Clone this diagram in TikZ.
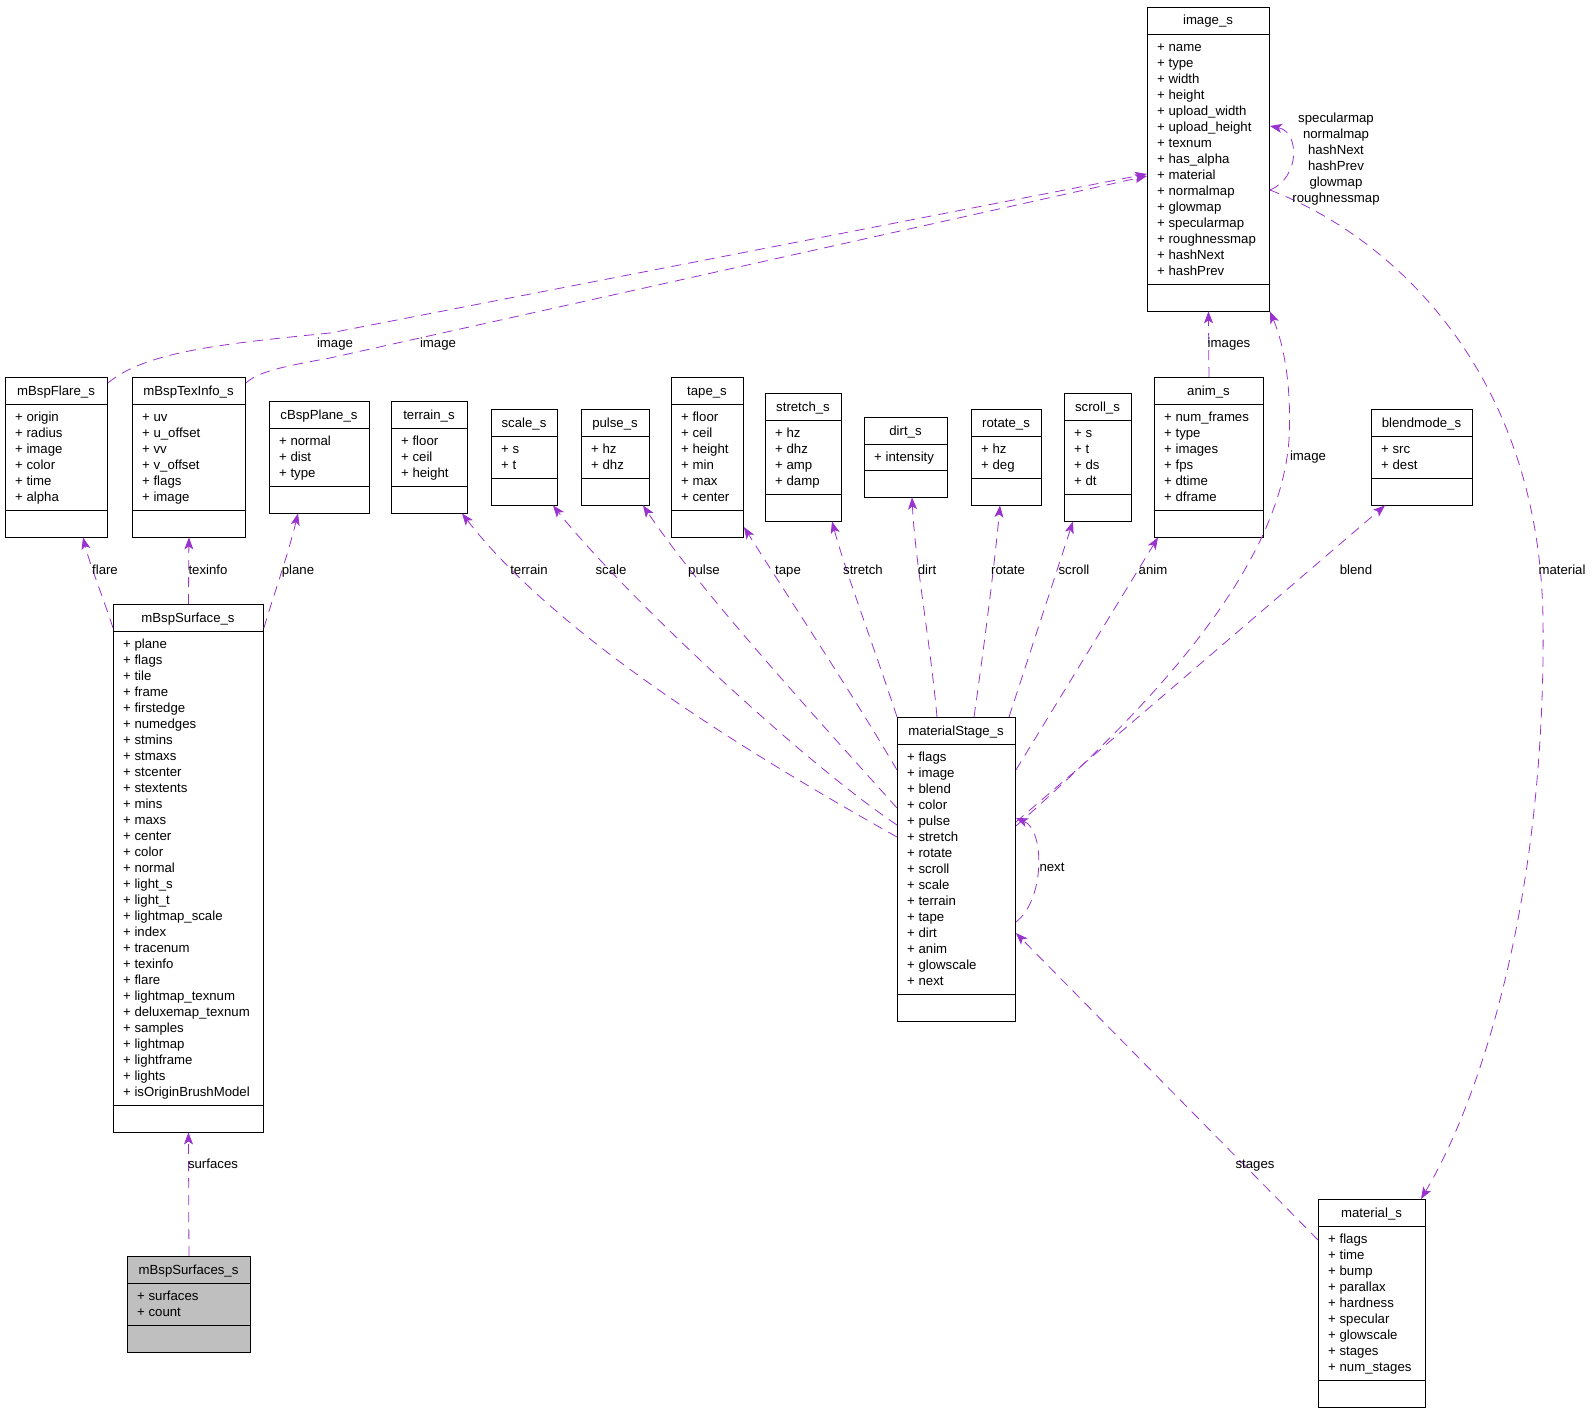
\documentclass[tikz,border=0pt]{standalone}
\usepackage{fontspec}
\setmainfont{Liberation Sans}
\usetikzlibrary{arrows.meta}

\definecolor{refcol}{HTML}{9A32CD}
\definecolor{boxgray}{HTML}{BFBFBF}

% class box: [fill]{name}{left}{top}{width}{rows}{title}{members}
\newcommand{\umlclass}[8][white]{%
  \pgfmathsetmacro{\boxh}{27+16*#6+10.5+26}%
  \node[classbox, fill=#1, minimum width=#5pt, minimum height=\boxh pt, anchor=north west] (#2) at (#3,#4) {};
  \draw[line width=0.9pt] (#3,#4+27) -- ++(#5,0);
  \draw[line width=0.9pt] (#3,#4+37.5+16*#6) -- ++(#5,0);
  \node[anchor=base] at (#3+#5/2,#4+18) {#7};
  \foreach \mem [count=\k] in {#8}
    \node[anchor=base west] at (#3+10,#4+27+5.25+16*\k-8+4.5) {+ \mem};
}

\begin{document}
\begin{tikzpicture}[x=1pt,y=-1pt,
    every node/.append style={inner sep=0pt,font=\fontsize{13.2}{16}\selectfont},
    classbox/.style={draw,line width=0.9pt},
    ref/.style={refcol,line width=0.8pt,dash pattern=on 10pt off 7pt,
      -{Stealth[length=12pt,width=9pt,inset=3pt]}},
    reflbl/.style={black,text height=9.5pt,text depth=2.7pt}]
  \useasboundingbox (0,0) rectangle (1592,1413);

  % classes
  \umlclass{flare}{5}{377}{102}{6}{mBspFlare\_s}{origin,radius,image,color,time,alpha}
  \umlclass{texinfo}{132}{377}{113}{6}{mBspTexInfo\_s}{uv,u\_offset,vv,v\_offset,flags,image}
  \umlclass{plane}{269}{401}{100}{3}{cBspPlane\_s}{normal,dist,type}
  \umlclass{terrain}{391}{401}{76}{3}{terrain\_s}{floor,ceil,height}
  \umlclass{scale}{491}{409}{66}{2}{scale\_s}{s,t}
  \umlclass{pulse}{581}{409}{68}{2}{pulse\_s}{hz,dhz}
  \umlclass{tape}{671}{377}{72}{6}{tape\_s}{floor,ceil,height,min,max,center}
  \umlclass{stretch}{765}{393}{76}{4}{stretch\_s}{hz,dhz,amp,damp}
  \umlclass{dirt}{864}{417}{83}{1}{dirt\_s}{intensity}
  \umlclass{rotate}{971}{409}{70}{2}{rotate\_s}{hz,deg}
  \umlclass{scroll}{1064}{393}{67}{4}{scroll\_s}{s,t,ds,dt}
  \umlclass{anim}{1154}{377}{109}{6}{anim\_s}{num\_frames,type,images,fps,dtime,dframe}
  \umlclass{blend}{1371}{409}{101}{2}{blendmode\_s}{src,dest}
  \umlclass{image}{1147}{7}{122}{15}{image\_s}{name,type,width,height,upload\_width,upload\_height,texnum,has\_alpha,material,normalmap,glowmap,specularmap,roughnessmap,hashNext,hashPrev}
  \umlclass{surface}{113}{604}{150}{29}{mBspSurface\_s}{plane,flags,tile,frame,firstedge,numedges,stmins,stmaxs,stcenter,stextents,mins,maxs,center,color,normal,light\_s,light\_t,lightmap\_scale,index,tracenum,texinfo,flare,lightmap\_texnum,deluxemap\_texnum,samples,lightmap,lightframe,lights,isOriginBrushModel}
  \umlclass{stage}{897}{717}{118}{15}{materialStage\_s}{flags,image,blend,color,pulse,stretch,rotate,scroll,scale,terrain,tape,dirt,anim,glowscale,next}
  \umlclass{material}{1318}{1199}{107}{9}{material\_s}{flags,time,bump,parallax,hardness,specular,glowscale,stages,num\_stages}
  \umlclass[boxgray]{surfaces}{127}{1256}{123}{2}{mBspSurfaces\_s}{surfaces,count}

  % mBspSurface side
  \draw[ref] (surfaces.north) -- (surface.south);
  \draw[ref] (surface.west |- 0,628) .. controls (104,600) and (90,565) .. (flare.south -| 83,0);
  \draw[ref] (surface.north) -- (texinfo.south);
  \draw[ref] (surface.east |- 0,628) .. controls (272,600) and (288,555) .. (plane.south -| 298,0);
  \draw[ref] (flare.east |- 0,383) .. controls (145,352) and (220,344) .. (330,333) -- (image.west |- 0,174);
  \draw[ref] (texinfo.east |- 0,383) .. controls (258,372) and (280,367) .. (330,358) -- (image.west |- 0,176);

  % materialStage members
  \draw[ref] (stage.west |- 0,837) .. controls (760,760) and (560,640) .. (terrain.south -| 462,0);
  \draw[ref] (stage.west |- 0,825) .. controls (800,760) and (620,590) .. (scale.south -| 553,0);
  \draw[ref] (stage.west |- 0,808) .. controls (800,700) and (700,590) .. (pulse.south -| 643,0);
  \draw[ref] (stage.west |- 0,770) .. controls (850,690) and (790,600) .. (tape.east |- 0,527);
  \draw[ref] (stage.north west) .. controls (875,650) and (845,570) .. (stretch.south -| 832,0);
  \draw[ref] (stage.north -| 937,0) .. controls (930,640) and (915,560) .. (dirt.south -| 912,0);
  \draw[ref] (stage.north -| 974,0) .. controls (985,640) and (995,560) .. (rotate.south -| 1000,0);
  \draw[ref] (stage.north -| 1009,0) -- (scroll.south -| 1073,0);
  \draw[ref] (stage.east |- 0,770) -- (anim.south -| 1158,0);
  \draw[ref] (stage.east |- 0,826) .. controls (1170,690) and (1280,560) .. (1289,440)
    .. controls (1292,380) and (1282,340) .. (image.south east);
  \draw[ref] (stage.east |- 0,822) -- (blend.south -| 1385,0);
  \draw[ref] (stage.east |- 0,922) .. controls (1045,900) and (1045,830) .. (stage.east |- 0,818);
  \draw[ref] (material.west |- 0,1240) -- (stage.east |- 0,933);

  % image_s
  \draw[ref] (anim.north) -- (image.south);
  \draw[ref] (image.east |- 0,190) .. controls (1300,178) and (1300,132) .. (image.east |- 0,126);
  \draw[ref] (image.east |- 0,190) .. controls (1400,240) and (1540,380) .. (1543,620)
    .. controls (1546,900) and (1480,1100) .. (material.north -| 1421,0);

  % labels
  \node[reflbl] (lsurfaces) at (213,1165) {surfaces};
  \node[reflbl] (lflare) at (105,571) {flare};
  \node[reflbl] (ltexinfo) at (208,571) {texinfo};
  \node[reflbl] (lplane) at (298,571) {plane};
  \node[reflbl] (limgflare) at (335,344) {image};
  \node[reflbl] (limgtex) at (438,344) {image};
  \node[reflbl] (lterrain) at (529,571) {terrain};
  \node[reflbl] (lscale) at (611,571) {scale};
  \node[reflbl] (lpulse) at (704,571) {pulse};
  \node[reflbl] (ltape) at (788,571) {tape};
  \node[reflbl] (lstretch) at (863,571) {stretch};
  \node[reflbl] (ldirt) at (927,571) {dirt};
  \node[reflbl] (lrotate) at (1008,571) {rotate};
  \node[reflbl] (lscroll) at (1074,571) {scroll};
  \node[reflbl] (lanim) at (1153,571) {anim};
  \node[reflbl] (lblend) at (1356,571) {blend};
  \node[reflbl] (lmaterial) at (1562,571) {material};
  \node[reflbl] (limgstage) at (1308,457) {image};
  \node[reflbl] (limages) at (1229,344) {images};
  \node[reflbl] (lnext) at (1052,868) {next};
  \node[reflbl] (lstages) at (1255,1165) {stages};
  \node[align=center] (lmaps) at (1336,159)
    {specularmap\\normalmap\\hashNext\\hashPrev\\glowmap\\roughnessmap};
\end{tikzpicture}
\end{document}
